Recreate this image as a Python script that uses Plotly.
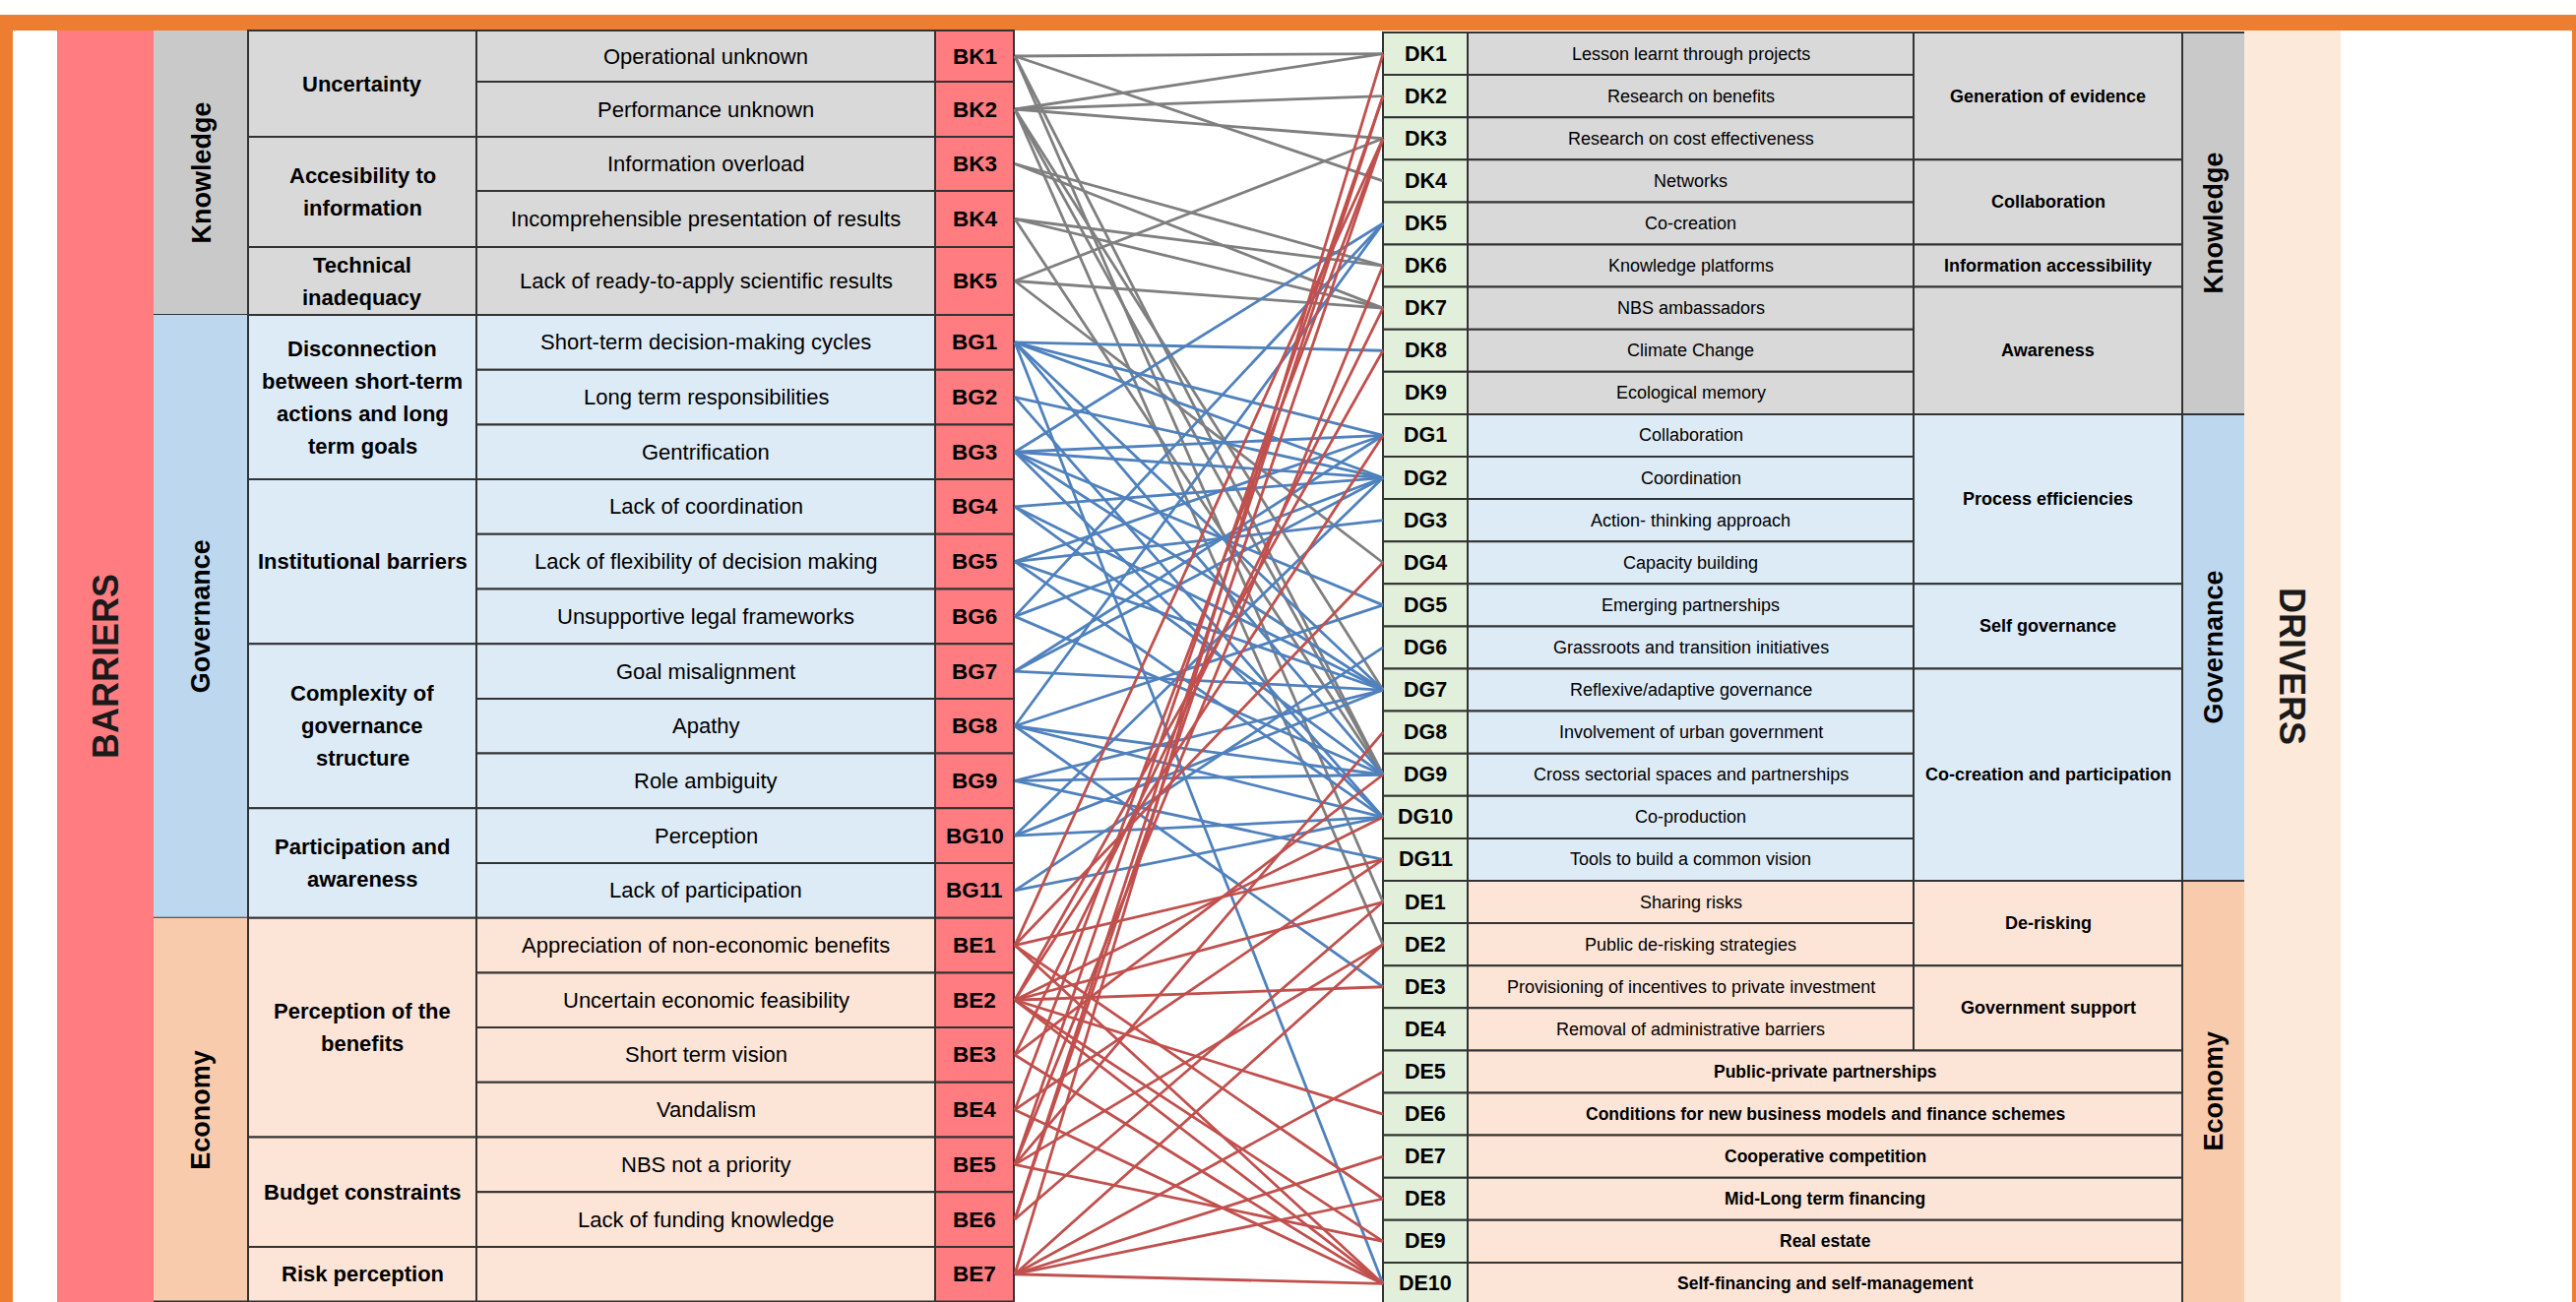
import plotly.graph_objects as go

W, H = 2617, 1323

# ---------------- DATA ----------------
left_codes = ["BK1", "BK2", "BK3", "BK4", "BK5",
              "BG1", "BG2", "BG3", "BG4", "BG5", "BG6", "BG7", "BG8", "BG9", "BG10", "BG11",
              "BE1", "BE2", "BE3", "BE4", "BE5", "BE6", "BE7"]
left_items = ["Operational unknown", "Performance unknown", "Information overload",
              "Incomprehensible presentation of results", "Lack of ready-to-apply scientific results",
              "Short-term decision-making cycles", "Long term responsibilities", "Gentrification",
              "Lack of coordination", "Lack of flexibility of decision making", "Unsupportive legal frameworks",
              "Goal misalignment", "Apathy", "Role ambiguity", "Perception", "Lack of participation",
              "Appreciation of non-economic benefits", "Uncertain economic feasibility", "Short term vision",
              "Vandalism", "NBS not a priority", "Lack of funding knowledge", ""]
left_subcats = [(["Uncertainty"], "BK1", "BK2"),
                (["Accesibility to", "information"], "BK3", "BK4"),
                (["Technical", "inadequacy"], "BK5", "BK5"),
                (["Disconnection", "between short-term", "actions and long", "term goals"], "BG1", "BG3"),
                (["Institutional barriers"], "BG4", "BG6"),
                (["Complexity of", "governance", "structure"], "BG7", "BG9"),
                (["Participation and", "awareness"], "BG10", "BG11"),
                (["Perception of the", "benefits"], "BE1", "BE4"),
                (["Budget constraints"], "BE5", "BE6"),
                (["Risk perception"], "BE7", "BE7")]
left_cats = [("Knowledge", "BK1", "BK5"), ("Governance", "BG1", "BG11"), ("Economy", "BE1", "BE7")]

right_codes = ["DK1", "DK2", "DK3", "DK4", "DK5", "DK6", "DK7", "DK8", "DK9",
               "DG1", "DG2", "DG3", "DG4", "DG5", "DG6", "DG7", "DG8", "DG9", "DG10", "DG11",
               "DE1", "DE2", "DE3", "DE4", "DE5", "DE6", "DE7", "DE8", "DE9", "DE10"]
right_items = ["Lesson learnt through projects", "Research on benefits", "Research on cost effectiveness",
               "Networks", "Co-creation", "Knowledge platforms", "NBS ambassadors", "Climate Change",
               "Ecological memory", "Collaboration", "Coordination", "Action- thinking approach",
               "Capacity building", "Emerging partnerships", "Grassroots and transition initiatives",
               "Reflexive/adaptive governance", "Involvement of urban government",
               "Cross sectorial spaces and partnerships", "Co-production", "Tools to build a common vision",
               "Sharing risks", "Public de-risking strategies", "Provisioning of incentives to private investment",
               "Removal of administrative barriers", "Public-private partnerships",
               "Conditions for new business models and finance schemes", "Cooperative competition",
               "Mid-Long term financing", "Real estate", "Self-financing and self-management"]
right_subcats = [("Generation of evidence", "DK1", "DK3"), ("Collaboration", "DK4", "DK5"),
                 ("Information accessibility", "DK6", "DK6"), ("Awareness", "DK7", "DK9"),
                 ("Process efficiencies", "DG1", "DG4"), ("Self governance", "DG5", "DG6"),
                 ("Co-creation and participation", "DG7", "DG11"), ("De-risking", "DE1", "DE2"),
                 ("Government support", "DE3", "DE4")]
right_cats = [("Knowledge", "DK1", "DK9"), ("Governance", "DG1", "DG11"), ("Economy", "DE1", "DE10")]

links_knowledge = [("BK1", "DK1"), ("BK1", "DK4"), ("BK1", "DG9"), ("BK1", "DE1"),
                   ("BK2", "DK1"), ("BK2", "DK2"), ("BK2", "DK3"), ("BK2", "DG7"), ("BK2", "DG9"), ("BK2", "DE2"),
                   ("BK3", "DK6"), ("BK3", "DK7"),
                   ("BK4", "DK6"), ("BK4", "DK7"), ("BK4", "DG9"),
                   ("BK5", "DK3"), ("BK5", "DK7"), ("BK5", "DG4")]
links_governance = [("BG1", "DK8"), ("BG1", "DG1"), ("BG1", "DG2"), ("BG1", "DG7"), ("BG1", "DG9"), ("BG1", "DE10"),
                    ("BG2", "DG2"), ("BG2", "DG10"),
                    ("BG3", "DK5"), ("BG3", "DG1"), ("BG3", "DG2"), ("BG3", "DG5"), ("BG3", "DG7"), ("BG3", "DG10"),
                    ("BG4", "DG2"), ("BG4", "DG7"), ("BG4", "DG9"),
                    ("BG5", "DG1"), ("BG5", "DG3"), ("BG5", "DG7"), ("BG5", "DG10"),
                    ("BG6", "DK5"), ("BG6", "DG2"), ("BG6", "DG9"),
                    ("BG7", "DG1"), ("BG7", "DG2"), ("BG7", "DG7"),
                    ("BG8", "DK5"), ("BG8", "DG5"), ("BG8", "DG9"), ("BG8", "DG10"), ("BG8", "DE3"),
                    ("BG9", "DG7"), ("BG9", "DG9"), ("BG9", "DG11"),
                    ("BG10", "DG2"), ("BG10", "DG7"), ("BG10", "DG10"),
                    ("BG11", "DG6"), ("BG11", "DG10")]
links_economy = [("BE1", "DK3"), ("BE1", "DG4"), ("BE1", "DG11"), ("BE1", "DE8"), ("BE1", "DE10"),
                 ("BE2", "DK8"), ("BE2", "DG1"), ("BE2", "DG10"), ("BE2", "DE1"), ("BE2", "DE3"),
                 ("BE2", "DE6"), ("BE2", "DE9"), ("BE2", "DE10"),
                 ("BE3", "DK7"), ("BE3", "DG9"), ("BE3", "DE10"),
                 ("BE4", "DK3"), ("BE4", "DG11"), ("BE4", "DE10"),
                 ("BE5", "DK2"), ("BE5", "DK6"), ("BE5", "DG8"), ("BE5", "DE2"), ("BE5", "DE9"),
                 ("BE6", "DK2"), ("BE6", "DK3"), ("BE6", "DE1"),
                 ("BE7", "DK1"), ("BE7", "DE2"), ("BE7", "DE5"), ("BE7", "DE7"), ("BE7", "DE8"), ("BE7", "DE10")]

# ---------------- GEOMETRY / STYLE ----------------
ORANGE = "#ed7d31"
PINK = "#ff7c80"
CAT_FILL = {"K": "#c9c9c9", "G": "#bdd7ee", "E": "#f8cbad"}
ITEM_FILL = {"K": "#d9d9d9", "G": "#ddebf7", "E": "#fce4d6"}
DCODE_FILL = "#e2efda"
DRIVERS_FILL = "#fde9d9"
BORDER = "#333333"
LINE_COL = {"K": "#7f7f7f", "G": "#4f81bd", "E": "#c0504d"}
NARROW = "Liberation Sans Narrow, Arial Narrow, Liberation Sans, Arial"
ARIAL = "Liberation Sans, Arial"

BAR_X = (58, 156)
LCAT_X = (156, 252)
LSUB_X = (252, 484)
LITEM_X = (484, 950)
LCODE_X = (950, 1030)
RCODE_X = (1405, 1491)
RITEM_X = (1491, 1944)
RSUB_X = (1944, 2217)
RCAT_X = (2217, 2280)
DRV_X = (2280, 2378)

LEFT_TOP = 31
left_h = [52, 56, 55, 57, 69] + [55.7] * 18
left_b = [LEFT_TOP]
for h in left_h:
    left_b.append(left_b[-1] + h)
RIGHT_TOP = 33
RH = 43.1
right_b = [RIGHT_TOP + i * RH for i in range(len(right_codes) + 1)]

li = {c: i for i, c in enumerate(left_codes)}
ri = {c: i for i, c in enumerate(right_codes)}


def lrow(code):
    i = li[code]
    return left_b[i], left_b[i + 1]


def rrow(code):
    i = ri[code]
    return right_b[i], right_b[i + 1]


shapes = []
annots = []


def rect(x0, x1, y0, y1, fill, border=True, lw=2):
    shapes.append(dict(type="rect", xref="x", yref="y", x0=x0, x1=x1, y0=y0, y1=y1,
                       fillcolor=fill, line=dict(color=BORDER if border else fill, width=lw if border else 0),
                       layer="below"))


def hline(x0, x1, y):
    shapes.append(dict(type="line", xref="x", yref="y", x0=x0, x1=x1, y0=y, y1=y,
                       line=dict(color=BORDER, width=2), layer="below"))


def text(x, y, s, size, family=NARROW, bold=False, angle=0, color="#000000"):
    if bold:
        s = "<b>" + s + "</b>"
    annots.append(dict(x=x, y=y, xref="x", yref="y", text=s, showarrow=False, textangle=angle,
                       font=dict(size=size, family=family, color=color), xanchor="center", yanchor="middle"))


# frame
shapes.append(dict(type="rect", xref="x", yref="y", x0=0, x1=W, y0=15, y1=31, fillcolor=ORANGE,
                   line=dict(width=0), layer="below"))
shapes.append(dict(type="rect", xref="x", yref="y", x0=0, x1=13, y0=15, y1=H, fillcolor=ORANGE,
                   line=dict(width=0), layer="below"))
shapes.append(dict(type="rect", xref="x", yref="y", x0=2613, x1=W, y0=15, y1=H, fillcolor=ORANGE,
                   line=dict(width=0), layer="below"))

# BARRIERS column
rect(BAR_X[0], BAR_X[1], LEFT_TOP, H + 5, PINK, border=False)
text((BAR_X[0] + BAR_X[1]) / 2, (LEFT_TOP + H) / 2, "BARRIERS", 36, family=ARIAL, bold=True, angle=-90,
     color="#1a1a1a")

# left categories
for name, a, b in left_cats:
    k = a[1]
    y0, y1 = lrow(a)[0], lrow(b)[1]
    rect(LCAT_X[0], LCAT_X[1], y0, y1, CAT_FILL[k], border=False)
    hline(LCAT_X[0], LCAT_X[1], y1)
    text((LCAT_X[0] + LCAT_X[1]) / 2, (y0 + y1) / 2, name, 27, family=ARIAL, bold=True, angle=-90)

# left subcats
for lines, a, b in left_subcats:
    k = a[1]
    y0, y1 = lrow(a)[0], lrow(b)[1]
    rect(LSUB_X[0], LSUB_X[1], y0, y1, ITEM_FILL[k])
    n = len(lines)
    yc = (y0 + y1) / 2
    for j, s in enumerate(lines):
        text((LSUB_X[0] + LSUB_X[1]) / 2, yc + (j - (n - 1) / 2) * 33, s, 22, bold=True)

# left items and codes
for code, item in zip(left_codes, left_items):
    k = code[1]
    y0, y1 = lrow(code)
    rect(LITEM_X[0], LITEM_X[1], y0, y1, ITEM_FILL[k])
    rect(LCODE_X[0], LCODE_X[1], y0, y1, PINK)
    if item:
        text((LITEM_X[0] + LITEM_X[1]) / 2, (y0 + y1) / 2, item, 22)
    text((LCODE_X[0] + LCODE_X[1]) / 2, (y0 + y1) / 2, code, 22.5, bold=True)

# DRIVERS column
rect(DRV_X[0], DRV_X[1], LEFT_TOP, H + 5, DRIVERS_FILL, border=False)
text((DRV_X[0] + DRV_X[1]) / 2, (LEFT_TOP + H) / 2, "DRIVERS", 36, family=ARIAL, bold=True, angle=90,
     color="#1a1a1a")

# right categories
for name, a, b in right_cats:
    k = a[1]
    y0, y1 = rrow(a)[0], rrow(b)[1]
    rect(RCAT_X[0], RCAT_X[1], y0, y1, CAT_FILL[k], border=False)
    hline(RCAT_X[0], RCAT_X[1], y0)
    hline(RCAT_X[0], RCAT_X[1], y1)
    yc = (y0 + min(y1, H)) / 2 if k == "E" else (y0 + y1) / 2
    text((RCAT_X[0] + RCAT_X[1]) / 2, yc, name, 27, family=ARIAL, bold=True, angle=-90)

# right subcats
covered = set()
for name, a, b in right_subcats:
    k = a[1]
    y0, y1 = rrow(a)[0], rrow(b)[1]
    rect(RSUB_X[0], RSUB_X[1], y0, y1, ITEM_FILL[k])
    text((RSUB_X[0] + RSUB_X[1]) / 2, (y0 + y1) / 2, name, 18, bold=True)
    for c in right_codes[ri[a]:ri[b] + 1]:
        covered.add(c)

# right items and codes
for code, item in zip(right_codes, right_items):
    k = code[1]
    y0, y1 = rrow(code)
    rect(RCODE_X[0], RCODE_X[1], y0, y1, DCODE_FILL)
    if code in covered:
        rect(RITEM_X[0], RITEM_X[1], y0, y1, ITEM_FILL[k])
        text((RITEM_X[0] + RITEM_X[1]) / 2, (y0 + y1) / 2, item, 18)
    else:
        rect(RITEM_X[0], RSUB_X[1], y0, y1, ITEM_FILL[k])
        text((RITEM_X[0] + RSUB_X[1]) / 2, (y0 + y1) / 2, item, 17.5, bold=True)
    text((RCODE_X[0] + RCODE_X[1]) / 2, (y0 + y1) / 2, code, 21.5, bold=True)

# ---------------- LINKS ----------------
XL, XR = LCODE_X[1] + 1, RCODE_X[0]
fig = go.Figure()
for key, links in (("K", links_knowledge), ("G", links_governance), ("E", links_economy)):
    xs, ys = [], []
    for a, b in links:
        ya = sum(lrow(a)) / 2
        yb = sum(rrow(b)) / 2
        xs += [XL, XR, None]
        ys += [ya, yb, None]
    fig.add_trace(go.Scatter(x=xs, y=ys, mode="lines", line=dict(color=LINE_COL[key], width=2.8),
                             hoverinfo="skip", showlegend=False))

fig.update_layout(
    width=W, height=H, margin=dict(l=0, r=0, t=0, b=0),
    paper_bgcolor="white", plot_bgcolor="white",
    xaxis=dict(range=[0, W], visible=False, fixedrange=True),
    yaxis=dict(range=[H, 0], visible=False, fixedrange=True),
    shapes=shapes, annotations=annots, showlegend=False,
)
fig.write_html("out.html", config={"displayModeBar": False},
               post_script="document.body.style.margin='0';document.body.style.overflow='hidden';")
